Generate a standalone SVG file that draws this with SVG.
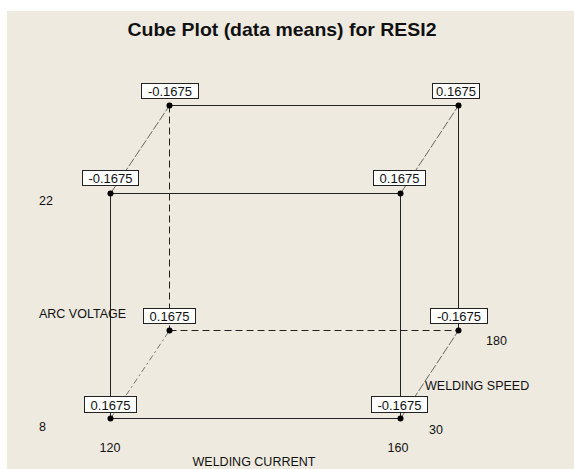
<svg xmlns="http://www.w3.org/2000/svg" width="574" height="469" viewBox="0 0 574 469">
<style>
.bg{fill:#eeeae0}
.title{font-family:"Liberation Sans",Arial,sans-serif;font-weight:bold;font-size:18.5px;fill:#111}
.ax{font-family:"Liberation Sans",Arial,sans-serif;font-size:12.5px;fill:#111}
.val{font-family:"Liberation Sans",Arial,sans-serif;font-size:13px;fill:#111}
.box{fill:#fff;stroke:#222;stroke-width:1}
.dot{fill:#000}
.edge{stroke:#222;stroke-width:1;fill:none}
.hid{stroke:#222;stroke-width:1;fill:none;stroke-dasharray:7 4}
.diag{stroke:#444;stroke-width:0.8;fill:none;stroke-dasharray:9 2}
.diag2{stroke:#555;stroke-width:0.8;fill:none;stroke-dasharray:6 3 2 3}
</style>
<rect x="0" y="0" width="574" height="469" fill="#fff"/>
<rect class="bg" x="7" y="11" width="567" height="458"/>
<text class="title" x="282" y="36" text-anchor="middle" textLength="309" lengthAdjust="spacingAndGlyphs">Cube Plot (data means) for RESI2</text>
<g id="connectors">
<line class="hid" x1="169.5" y1="105.5" x2="169.5" y2="330.5"/>
<line class="hid" x1="169.5" y1="330.5" x2="458.5" y2="330.5"/>
<line class="diag2" x1="110.5" y1="418.5" x2="169.5" y2="330.5"/>
<line class="edge" x1="169.5" y1="105.5" x2="458.5" y2="105.5"/>
<line class="edge" x1="458.5" y1="105.5" x2="458.5" y2="330.5"/>
<line class="edge" x1="110.5" y1="193.5" x2="400.5" y2="193.5"/>
<line class="edge" x1="110.5" y1="193.5" x2="110.5" y2="418.5"/>
<line class="edge" x1="400.5" y1="193.5" x2="400.5" y2="418.5"/>
<line class="edge" x1="110.5" y1="418.5" x2="400.5" y2="418.5"/>
<line class="diag" x1="110.5" y1="193.5" x2="169.5" y2="105.5"/>
<line class="diag" x1="400.5" y1="193.5" x2="458.5" y2="105.5"/>
<line class="diag" x1="400.5" y1="418.5" x2="458.5" y2="330.5"/>
</g>
<g id="n-back-top-left">
<circle class="dot" cx="169.5" cy="105.5" r="3"/>
<rect class="box" x="141.5" y="83.5" width="57" height="15"/>
<text class="val" x="170" y="96" text-anchor="middle">-0.1675</text>
</g>
<g id="n-back-top-right">
<circle class="dot" cx="458.5" cy="105.5" r="3"/>
<rect class="box" x="432.5" y="83.5" width="47" height="15"/>
<text class="val" x="456" y="96" text-anchor="middle">0.1675</text>
</g>
<g id="n-front-top-left">
<circle class="dot" cx="110.5" cy="193.5" r="3"/>
<rect class="box" x="82.5" y="170.5" width="56" height="15"/>
<text class="val" x="110.5" y="183" text-anchor="middle">-0.1675</text>
</g>
<g id="n-front-top-right">
<circle class="dot" cx="400.5" cy="193.5" r="3"/>
<rect class="box" x="373.5" y="170.5" width="52" height="15"/>
<text class="val" x="399.5" y="183" text-anchor="middle">0.1675</text>
</g>
<g id="n-back-bottom-left">
<circle class="dot" cx="169.5" cy="330.5" r="3"/>
<rect class="box" x="143.5" y="308.5" width="52" height="15"/>
<text class="val" x="169.5" y="321" text-anchor="middle">0.1675</text>
</g>
<g id="n-back-bottom-right">
<circle class="dot" cx="458.5" cy="330.5" r="3"/>
<rect class="box" x="430.5" y="308.5" width="57" height="15"/>
<text class="val" x="459" y="321" text-anchor="middle">-0.1675</text>
</g>
<g id="n-front-bottom-left">
<circle class="dot" cx="110.5" cy="418.5" r="3"/>
<rect class="box" x="84.5" y="396.5" width="52" height="16"/>
<text class="val" x="110.5" y="409.5" text-anchor="middle">0.1675</text>
</g>
<g id="n-front-bottom-right">
<circle class="dot" cx="400.5" cy="418.5" r="3"/>
<rect class="box" x="371.5" y="396.5" width="56" height="16"/>
<text class="val" x="399.5" y="409.5" text-anchor="middle">-0.1675</text>
</g>
<g id="axis-labels">
<text class="ax" x="39" y="205">22</text>
<text class="ax" x="39" y="318">ARC VOLTAGE</text>
<text class="ax" x="39" y="431">8</text>
<text class="ax" x="110" y="452" text-anchor="middle">120</text>
<text class="ax" x="398" y="452" text-anchor="middle">160</text>
<text class="ax" x="254" y="466" text-anchor="middle">WELDING CURRENT</text>
<text class="ax" x="486" y="345">180</text>
<text class="ax" x="425" y="390">WELDING SPEED</text>
<text class="ax" x="429" y="434">30</text>
</g>
</svg>
